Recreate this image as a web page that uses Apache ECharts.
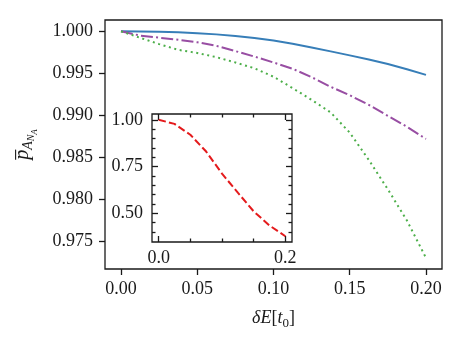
<!DOCTYPE html>
<html>
<head>
<meta charset="utf-8">
<script src="https://cdn.jsdelivr.net/npm/echarts@6/dist/echarts.min.js"></script>
<style>
html, body { margin: 0; padding: 0; background: #fff; }
#chart { width: 463px; height: 347px; }
</style>
</head>
<body>
<div id="chart"></div>
<script>
// values
const dE = [0, 0.0125, 0.025, 0.0375, 0.05, 0.0625, 0.075, 0.0875, 0.1,
    0.1125, 0.125, 0.1375, 0.15, 0.1625, 0.175, 0.1875, 0.2];
const pSolid = [1.0, 0.99999, 0.99995, 0.99988, 0.99978, 0.99964, 0.99945, 0.9992, 0.9989,
    0.99852, 0.99808, 0.99762, 0.99714, 0.99665, 0.99612, 0.9955, 0.99482];
const pDashDot = [1.0, 0.9995, 0.99925, 0.999, 0.9987, 0.99828, 0.99765, 0.997, 0.9963,
    0.99555, 0.99455, 0.9934, 0.9924, 0.99125, 0.98995, 0.98865, 0.9872];
const pDotted = [1.0, 0.99924, 0.99848, 0.9978, 0.99743, 0.99693, 0.9963, 0.9956, 0.9946,
    0.99325, 0.99185, 0.99035, 0.98795, 0.9847, 0.9812, 0.9775, 0.97305];

const dEInset = [0, 0.025, 0.05, 0.075, 0.1, 0.125, 0.15, 0.175, 0.2];
const pInset = [1.0, 0.978, 0.92, 0.83, 0.712, 0.61, 0.51, 0.434, 0.377];

const xTicks = [0, 0.05, 0.1, 0.15, 0.2];
const yTicks = [0.975, 0.98, 0.985, 0.99, 0.995, 1.0];
const insetXMajor = [0, 0.2];
const insetXMinor = [0.05, 0.1, 0.15];
const insetYMajor = [0.5, 0.75, 1.0];
const insetYMinor = [0.4, 0.45, 0.55, 0.6, 0.65, 0.7, 0.8, 0.85, 0.9, 0.95];

const font = 'Liberation Serif';
const ink = '#1a1a1a';
const xRange = [-0.0105, 0.2105];
const yRange = [0.97173, 1.00135];
const yRangeInset = [0.346, 1.031];

const mainBox = { left: 105, top: 20, right: 21, bottom: 78 };

function pairs(xs, ys) {
    return xs.map((x, i) => [x, ys[i]]);
}

let chart = echarts.init(document.getElementById('chart'));

// an axis that only draws ticks
function tickAxis(grid, range, ticks, pos, len, inside) {
    return {
        type: 'value', gridIndex: grid, position: pos,
        min: range[0], max: range[1],
        axisLine: { show: false, onZero: false },
        splitLine: { show: false },
        axisTick: { show: true, inside: inside, length: len, customValues: ticks,
            lineStyle: { color: ink, width: 1.3 } },
        axisLabel: { show: false }
    };
}

// an axis that only draws labels
function labelAxis(grid, range, ticks, pos, margin, digits) {
    return {
        type: 'value', gridIndex: grid, position: pos,
        min: range[0], max: range[1],
        axisLine: { show: false, onZero: false },
        splitLine: { show: false },
        axisTick: { show: false },
        axisLabel: { show: true, customValues: ticks, margin: margin,
            fontFamily: font, fontSize: 18, color: ink,
            formatter: v => v.toFixed(digits) }
    };
}

let mainX = labelAxis(0, xRange, xTicks, 'bottom', 11, 2);
mainX.name = '{i|δE}{n|[}{i|t}{s|0}{n|]}';
mainX.nameLocation = 'middle';
mainX.nameGap = 38;
mainX.nameTextStyle = {
    rich: {
        i: { fontFamily: font, fontSize: 18, fontStyle: 'italic', color: ink },
        n: { fontFamily: font, fontSize: 18, color: ink },
        s: { fontFamily: font, fontSize: 13, color: ink, padding: [10, 0, 0, 0] }
    }
};

let mainY = labelAxis(0, yRange, yTicks, 'left', 12, 3);
mainY.name = '{p|p\u0305}{a|A}{b|N}{c|A}';
mainY.nameLocation = 'middle';
mainY.nameRotate = 90;
mainY.nameGap = 66;
mainY.nameTextStyle = {
    rich: {
        p: { fontFamily: font, fontSize: 20, fontStyle: 'italic', color: ink },
        a: { fontFamily: font, fontSize: 14, fontStyle: 'italic', color: ink, padding: [12, 0, 0, 0] },
        b: { fontFamily: font, fontSize: 10, fontStyle: 'italic', color: ink, padding: [18, 0, 0, 0] },
        c: { fontFamily: font, fontSize: 9, fontStyle: 'italic', color: ink, padding: [24, 0, 0, 0] }
    }
};

let option = {
    animation: false,
    grid: [
        Object.assign({ show: true, borderColor: ink, borderWidth: 1.3, outerBoundsMode: 'none' }, mainBox),
        { left: 152, top: 114, width: 140, height: 128, show: true,
          borderColor: ink, borderWidth: 1.3, backgroundColor: '#fff', outerBoundsMode: 'none' },
        // a bare copy of the main box that only carries the main ticks
        Object.assign({ show: false, outerBoundsMode: 'none' }, mainBox)
    ],
    xAxis: [
        mainX,
        labelAxis(1, xRange, insetXMajor, 'bottom', 7, 1),
        tickAxis(2, xRange, xTicks, 'bottom', 6, false),
        tickAxis(1, xRange, insetXMajor, 'bottom', 6, true),
        tickAxis(1, xRange, insetXMinor, 'bottom', 3.5, true),
        tickAxis(1, xRange, insetXMajor, 'top', 6, true),
        tickAxis(1, xRange, insetXMinor, 'top', 3.5, true)
    ],
    yAxis: [
        mainY,
        labelAxis(1, yRangeInset, insetYMajor, 'left', 9, 2),
        tickAxis(2, yRange, yTicks, 'left', 6, false),
        tickAxis(1, yRangeInset, insetYMajor, 'left', 6, true),
        tickAxis(1, yRangeInset, insetYMinor, 'left', 3.5, true),
        tickAxis(1, yRangeInset, insetYMajor, 'right', 6, true),
        tickAxis(1, yRangeInset, insetYMinor, 'right', 3.5, true)
    ],
    series: [
        {
            type: 'line', xAxisIndex: 0, yAxisIndex: 0,
            data: pairs(dE, pSolid), showSymbol: false,
            lineStyle: { color: '#377eb8', width: 2 }
        },
        {
            type: 'line', xAxisIndex: 0, yAxisIndex: 0,
            data: pairs(dE, pDashDot), showSymbol: false,
            lineStyle: { color: '#984ea3', width: 2, type: [12, 3.2, 2, 3.2] }
        },
        {
            type: 'line', xAxisIndex: 0, yAxisIndex: 0,
            data: pairs(dE, pDotted), showSymbol: false,
            lineStyle: { color: '#4daf4a', width: 2, type: [2, 3.6] }
        },
        {
            type: 'line', xAxisIndex: 1, yAxisIndex: 1,
            data: pairs(dEInset, pInset), showSymbol: false,
            lineStyle: { color: '#e41a1c', width: 2, type: [7.4, 3.2] }
        }
    ]
};
chart.setOption(option);
</script>
</body>
</html>
